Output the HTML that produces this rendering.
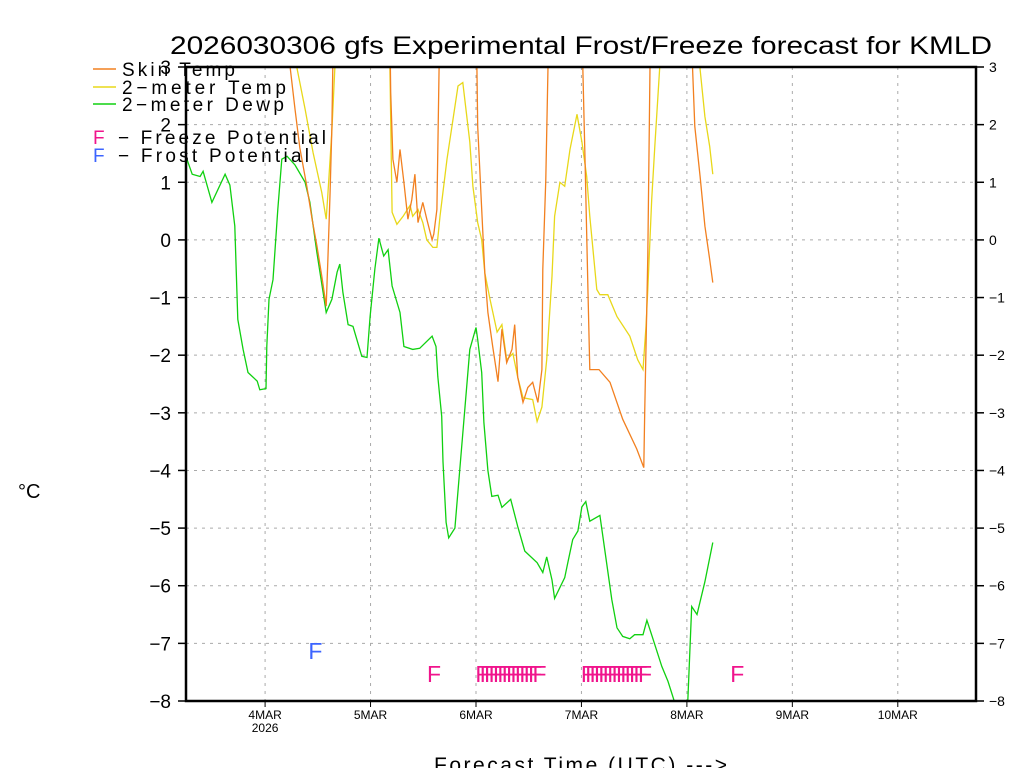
<!DOCTYPE html>
<html><head><meta charset="utf-8"><style>
html,body{margin:0;padding:0;background:#fff;width:1024px;height:768px;overflow:hidden}
svg{display:block;font-family:"Liberation Sans",sans-serif}
</style></head><body>
<svg id="chart" width="1024" height="768" viewBox="0 0 1024 768">
<defs><clipPath id="plotclip"><rect x="186" y="67" width="790" height="634"/></clipPath></defs>
<text x="581" y="54" text-anchor="middle" font-size="25" textLength="822" lengthAdjust="spacingAndGlyphs">2026030306 gfs Experimental Frost/Freeze forecast for KMLD</text>
<g id="grid"></g>
<g id="series" clip-path="url(#plotclip)"></g>
<g id="markers"></g>
<g id="axes"></g>
<g font-size="19">
<line x1="93" y1="69" x2="116" y2="69" stroke="#f28020" stroke-width="1.5"/>
<text x="122" y="76" textLength="113" lengthAdjust="spacing">Skin Temp</text>
<line x1="93" y1="87" x2="116" y2="87" stroke="#e8d81a" stroke-width="1.5"/>
<text x="122" y="94" textLength="164" lengthAdjust="spacing">2−meter Temp</text>
<line x1="93" y1="104" x2="116" y2="104" stroke="#10d010" stroke-width="1.5"/>
<text x="122" y="111" textLength="162" lengthAdjust="spacing">2−meter Dewp</text>
<text x="93" y="144" fill="#f0148c">F</text>
<text x="118" y="144" textLength="208" lengthAdjust="spacing">−  Freeze Potential</text>
<text x="93" y="162" fill="#3c64ff">F</text>
<text x="118" y="162" textLength="191" lengthAdjust="spacing">−  Frost Potential</text>
</g>
<text x="18" y="498" font-size="20">°C</text>
<text x="434" y="772" font-size="21" textLength="293" lengthAdjust="spacing">Forecast Time (UTC) ---&gt;</text>
</svg>
<script>
// hours since 3MAR 00Z
const dewHours=[6.2,7.4,9.2,9.9,11.9,14.9,16.0,17.1,17.8,19.0,20.1,22.2,22.8,24.2,24.4,24.9,25.8,26.9,27.8,29.0,30.8,33.1,34.2,35.8,37.2,37.9,39.2,40.4,41.0,41.7,42.9,44.0,46.0,47.2,47.9,49.0,49.9,51.0,52.0,52.9,54.7,55.6,57.6,59.2,62.0,62.9,63.3,64.2,64.5,65.2,65.8,67.2,68.3,69.5,70.6,72.0,72.4,73.3,73.8,74.7,75.6,77.0,77.9,79.9,81.5,83.1,85.9,87.2,88.1,89.3,89.9,92.2,92.9,94.0,95.2,96.1,97.0,97.9,100.2,101.3,102.9,104.1,105.4,107.0,108.1,110.0,110.9,112.3,114.3,115.7,117.0,118.4,120.2,121.1,122.3,124.1,125.9];
const dewVals=[1.4,1.14,1.1,1.19,0.65,1.14,0.95,0.24,-1.38,-1.9,-2.3,-2.45,-2.6,-2.58,-1.85,-1.03,-0.69,0.53,1.4,1.45,1.3,1.0,0.65,-0.22,-0.91,-1.26,-1.03,-0.56,-0.42,-0.91,-1.47,-1.5,-2.02,-2.04,-1.33,-0.5,0.03,-0.28,-0.17,-0.8,-1.26,-1.85,-1.9,-1.88,-1.67,-1.85,-2.37,-3.06,-3.85,-4.9,-5.17,-5.0,-4.0,-2.9,-1.9,-1.52,-1.73,-2.3,-3.17,-4.0,-4.45,-4.43,-4.64,-4.5,-4.97,-5.4,-5.6,-5.77,-5.5,-5.9,-6.22,-5.86,-5.6,-5.2,-5.05,-4.63,-4.54,-4.88,-4.78,-5.37,-6.24,-6.73,-6.88,-6.92,-6.85,-6.85,-6.6,-6.93,-7.4,-7.66,-7.97,-8.4,-8.0,-6.36,-6.5,-5.93,-5.25];
const t2Hours=[6,27.4,31.3,33.1,34.9,36.9,37.9,38.3,39.2,39.9,40.6,51.3,52.4,52.9,54.0,55.4,57.0,57.6,58.8,59.9,60.8,62.2,63.1,63.8,65.4,67.9,69.0,70.6,71.3,72.4,73.3,74.0,75.2,76.8,77.9,79.0,80.4,81.5,82.7,84.9,85.9,87.0,88.1,89.3,89.9,91.1,92.2,93.4,95.0,96.1,97.2,97.9,99.5,100.2,102.0,104.1,107.0,108.8,110.0,110.7,111.1,112.0,112.7,113.8,115,121.8,123.0,124.1,125.2,125.9];
const t2Vals=[6,5,2.96,2.27,1.52,0.82,0.36,0.8,1.9,3.0,5,5,3.0,0.48,0.27,0.41,0.6,0.41,0.53,0.3,0,-0.13,-0.13,0.41,1.4,2.67,2.73,1.7,0.93,0.3,0,-0.57,-1.03,-1.6,-1.47,-2.08,-1.97,-2.38,-2.74,-2.77,-3.15,-2.9,-2.08,-0.63,0.41,1.0,0.93,1.57,2.18,1.7,1.1,0.41,-0.86,-0.95,-0.95,-1.33,-1.67,-2.08,-2.25,-1.5,-0.86,0.7,1.62,2.96,5,5,2.96,2.14,1.62,1.14];
const skinHours=[6,28.5,29.7,30.8,31.9,33.5,34.7,35.8,36.9,37.9,38.3,38.8,39.2,39.4,40.1,52.0,52.6,53.1,54.0,54.7,55.6,56.5,57.4,58.1,58.8,59.9,60.8,62.0,62.4,63.1,63.6,64.0,71.5,72.2,72.4,73.3,74.0,74.7,75.8,77.0,77.9,79.0,80.2,80.8,81.5,82.7,83.8,84.9,86.1,87.0,87.2,87.9,88.4,88.8,95.6,96.3,96.8,97.5,97.9,100.0,102.5,105.4,108.6,110.2,110.4,111.1,111.6,112.2,120.7,121.3,121.8,123.0,124.1,125.2,125.9];
const skinVals=[6,5,3.0,2.27,1.6,0.93,0.36,-0.1,-0.63,-1.15,-0.33,0.83,1.97,3.0,6,6,2.56,1.4,1.0,1.57,1.0,0.36,0.7,1.14,0.3,0.65,0.36,0,0.1,0.53,3.0,6,6,3.0,1.97,0.53,-0.57,-1.26,-1.85,-2.46,-1.55,-2.13,-1.9,-1.47,-2.38,-2.82,-2.56,-2.47,-2.82,-2.25,-0.51,1.05,3.0,6,6,3.0,1.41,-0.91,-2.25,-2.25,-2.47,-3.11,-3.63,-3.95,-3.0,-0.28,3.0,6,6,2.96,1.97,1.1,0.24,-0.34,-0.74];
const freezeHours=[62,73,74,75,76,77,78,79,80,81,82,83,84,85,86,97,98,99,100,101,102,103,104,105,106,107,108,109,110,131];
const frostHours=[35];
const yTicks=[3,2,1,0,-1,-2,-3,-4,-5,-6,-7,-8];
const dayTicks=[24,48,72,96,120,144,168];
const dayLabels=["4MAR","5MAR","6MAR","7MAR","8MAR","9MAR","10MAR"];

const NS="http://www.w3.org/2000/svg";
const X0=186,X1=976,Y0=67,Y1=701,H0=6,H1=185.8,V0=3,V1=-8;
function xs(h){return X0+(h-H0)*(X1-X0)/(H1-H0);}
function ys(v){return Y0+(V0-v)*(Y1-Y0)/(V0-V1);}
function mk(tag,attrs,parent){const e=document.createElementNS(NS,tag);for(const k in attrs)e.setAttribute(k,attrs[k]);parent.appendChild(e);return e;}
const grid=document.getElementById('grid'),axes=document.getElementById('axes'),series=document.getElementById('series'),markers=document.getElementById('markers');

yTicks.forEach(v=>{
  const y=ys(v);
  if(v<3&&v>-8){const g=mk('line',{x1:X0,x2:X1,y1:y,y2:y,stroke:'#aaa','stroke-width':1,'stroke-dasharray':'3,5'},grid);
  
  }
  const t1=mk('line',{x1:X0-8,x2:X0,y1:y,y2:y,stroke:'#000','stroke-width':1.5},axes);
  
  
  const t2=mk('line',{x1:X1,x2:X1+8,y1:y,y2:y,stroke:'#000','stroke-width':1.5},axes);
  
  
  const lab=v<0?'−'+Math.abs(v):String(v);
  const l=mk('text',{x:171,y:y+7,'text-anchor':'end','font-size':19},axes);l.textContent=lab;
  
  
  const r=mk('text',{x:989,y:y+5,'font-size':14},axes);r.textContent=lab;
  
  
});
dayTicks.forEach((h,i)=>{
  const x=xs(h);
  const g=mk('line',{x1:x,x2:x,y1:Y0,y2:Y1,stroke:'#aaa','stroke-width':1,'stroke-dasharray':'3,5'},grid);
  
  
  const t=mk('line',{x1:x,x2:x,y1:Y1,y2:Y1+6,stroke:'#000','stroke-width':1},axes);
  
  
  const l=mk('text',{x:x,y:719,'text-anchor':'middle','font-size':12},axes);l.textContent=dayLabels[i];
  
  
});
const yr=mk('text',{x:xs(24),y:732,'text-anchor':'middle','font-size':12},axes);yr.textContent='2026';


const frame=mk('rect',{x:X0,y:Y0,width:X1-X0,height:Y1-Y0,fill:'none',stroke:'#000','stroke-width':2.5},axes);



function line(hs,vs,color,name){
  const d=hs.map((h,i)=>(i?'L':'M')+xs(h).toFixed(1)+','+ys(vs[i]).toFixed(1)).join('');
  const p=mk('path',{d:d,fill:'none',stroke:color,'stroke-width':1.3},series);
  
  
}
line(dewHours,dewVals,'#10d010','dewpoint-line');
line(t2Hours,t2Vals,'#e8d81a','2m-temp-line');
line(skinHours,skinVals,'#f28020','skin-temp-line');

freezeHours.forEach(h=>{
  const t=mk('text',{x:xs(h)-5,y:682,'font-size':23,fill:'#f0148c'},markers);t.textContent='F';
  
  
});
frostHours.forEach(h=>{
  const t=mk('text',{x:xs(h)-5,y:659,'font-size':23,fill:'#3c64ff'},markers);t.textContent='F';
  
  
});
</script>
</body></html>
